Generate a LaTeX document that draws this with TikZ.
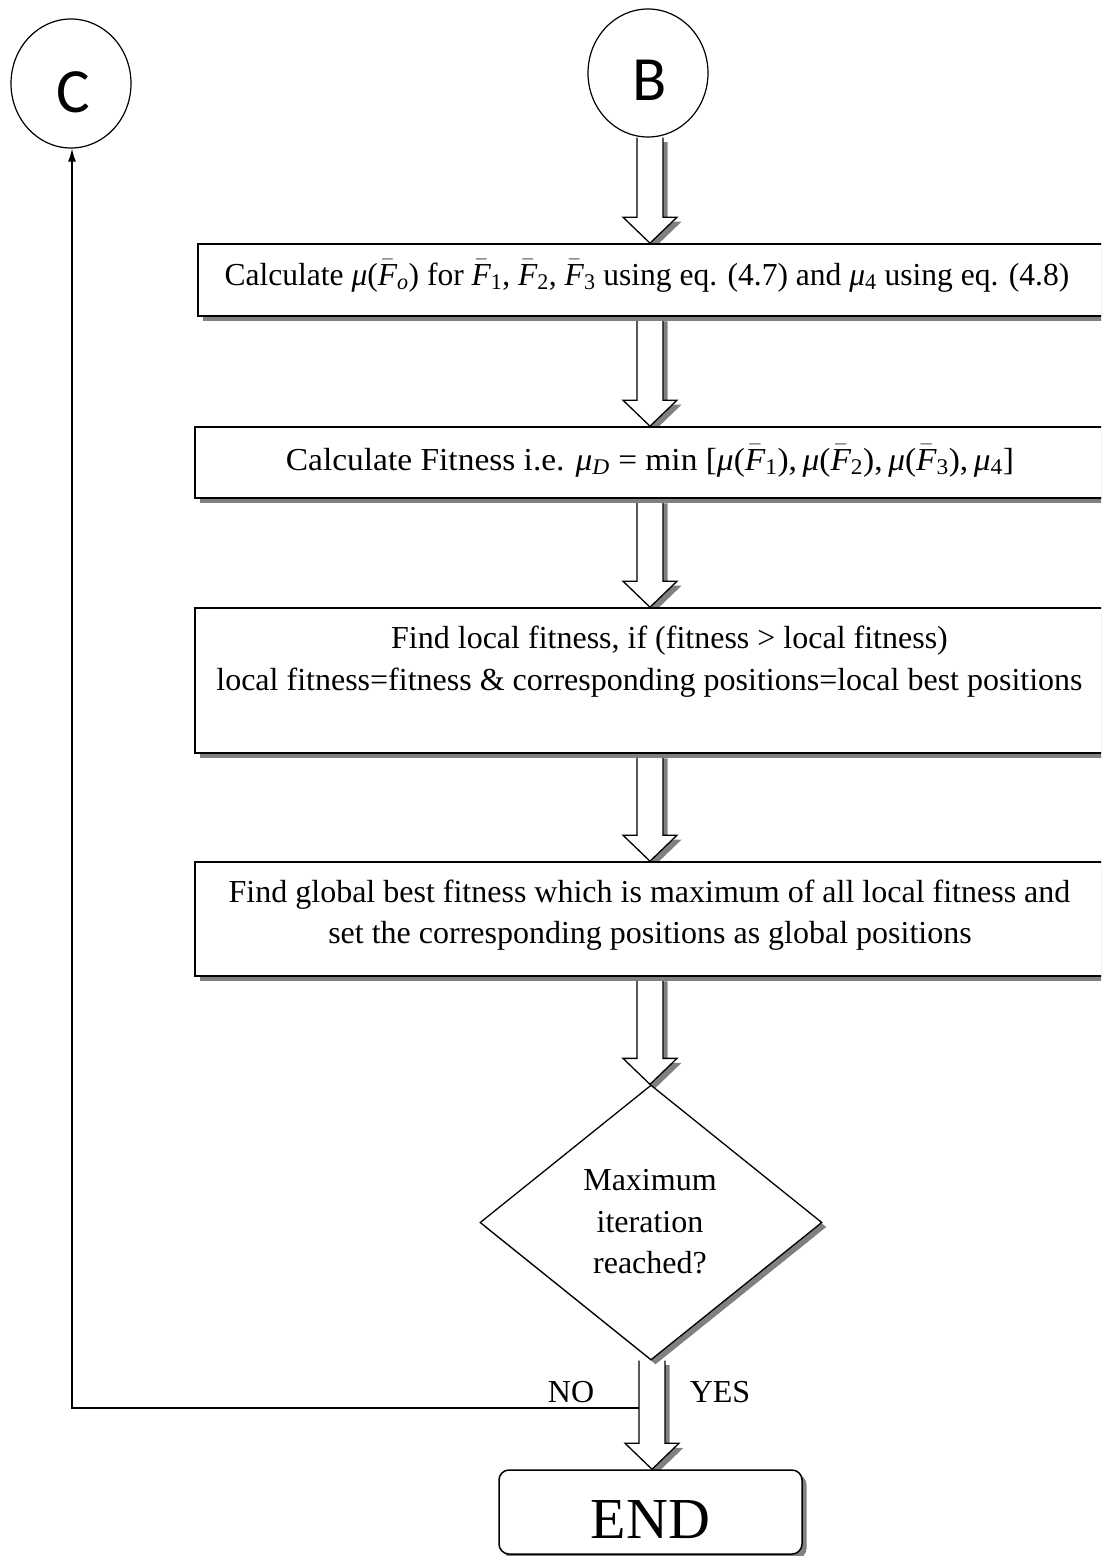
\RequirePackage{fix-cm}
\documentclass[tikz,border=0pt]{standalone}
\usepackage{fontspec}
\usepackage{graphicx}
\setmainfont{Liberation Serif}
\newfontfamily\calib{Carlito}
\usetikzlibrary{shapes.geometric,shadows,arrows.meta,calc}
\pgfdeclarelayer{bg}
\pgfsetlayers{bg,main}
\definecolor{shadowgray}{RGB}{128,128,128}
\newcommand\Fbar{\ensuremath{\bar{\mbox{\itshape F}}}}
\newcommand\mmu{\textit{μ}}
\tikzset{
  shad/.style={drop shadow={shadow xshift=4.5pt,shadow yshift=-4.5pt,fill=shadowgray,opacity=1}},
  procbox/.style={draw=black,line width=1.6pt,fill=white,shad,inner sep=0pt},
  txt/.style={font=\fontsize{32}{38}\selectfont,anchor=base,inner sep=0pt},
  conn/.style={draw=black,line width=1.2pt,ellipse,inner sep=0pt,minimum width=120pt},
  blkarr/.style={draw=black,fill=white,line width=1.3pt,line join=miter,shad},
  letter/.style={font=\calib\fontsize{63}{63}\selectfont,anchor=base,inner sep=0pt},
}
% #1 = x centre, #2 = source anchor, #3 = target anchor
\newcommand\blkarrow[3]{%
  \draw[blkarr] let \p1=(#2), \p2=(#3) in
    (#1pt-13pt,\y1) -- (#1pt-13pt,\y2+26pt) -- (#1pt-27pt,\y2+26pt) -- (#1pt,\y2)
    -- (#1pt+27pt,\y2+26pt) -- (#1pt+13pt,\y2+26pt) -- (#1pt+13pt,\y1);}
\begin{document}
\begin{tikzpicture}[x=1pt,y=-1pt]
\useasboundingbox (0,0) rectangle (1101,1556);
\clip (0,0) rectangle (1101,1556);

% connectors (ellipses)
\node[conn,minimum height=129pt] (C) at (71,83.5) {};
\node[letter] (Ct) at (73,112) {C};
\node[conn,minimum height=128pt] (B) at (648,73) {};
\node[letter] (Bt) at (650,100) {B};

% process boxes
\node[procbox,minimum width=912pt,minimum height=72pt] (b1) at (654,280) {};
\node[txt] (t1) at (647,285)
  {\scalebox{0.985}[1]{Calculate \mmu(\Fbar\textsubscript{\textit{o}}) for \Fbar\textsubscript{1}, \Fbar\textsubscript{2}, \Fbar\textsubscript{3} using eq. (4.7) and \mmu\textsubscript{4} using eq. (4.8)}};

\node[procbox,minimum width=915pt,minimum height=71pt] (b2) at (652.5,462.5) {};
\node[txt] (t2) at (650,470)
  {\scalebox{1.045}[1]{Calculate Fitness i.e. \mmu\textsubscript{\textit{D}} = min [\mmu(\Fbar\textsubscript{1}),\,\mmu(\Fbar\textsubscript{2}),\,\mmu(\Fbar\textsubscript{3}),\,\mmu\textsubscript{4}]}};

\node[procbox,minimum width=915pt,minimum height=145pt] (b3) at (652.5,680.5) {};
\node[txt] (t3a) at (669.5,648) {Find local fitness, if (fitness > local fitness)};
\node[txt] (t3b) at (649.5,690) {local fitness=fitness \& corresponding positions=local best positions};

\node[procbox,minimum width=915pt,minimum height=114pt] (b4) at (652.5,919) {};
\node[txt] (t4a) at (649.5,902) {Find global best fitness which is maximum of all local fitness and};
\node[txt] (t4b) at (650,943) {set the corresponding positions as global positions};

% decision
\node[draw=black,line width=1.3pt,fill=white,shad,diamond,inner sep=0pt,
      minimum width=342pt,minimum height=275pt] (D) at (651,1222.5) {};
\node[txt] (d1) at (650,1190) {Maximum};
\node[txt] (d2) at (650,1232) {iteration};
\node[txt] (d3) at (650,1273) {reached?};

% end
\node[draw=black,line width=1.5pt,fill=white,shad,rounded corners=10pt,inner sep=0pt,
      minimum width=303pt,minimum height=84pt] (E) at (650.5,1512) {};
\node[font=\fontsize{58}{58}\selectfont,anchor=base,inner sep=0pt] (Et) at (650.5,1538) {END};

% labels
\node[txt] (no) at (571,1402) {NO};
\node[txt] (yes) at (720,1402) {YES};

% block arrows (behind the shapes)
\begin{pgfonlayer}{bg}
  \blkarrow{650}{B.south}{b1.north}
  \blkarrow{650}{b1.south}{b2.north}
  \blkarrow{650}{b2.south}{b3.north}
  \blkarrow{650}{b3.south}{b4.north}
  \blkarrow{650}{b4.south}{D.north}
  \blkarrow{652}{D.south}{E.north}
\end{pgfonlayer}

% NO branch back to C
\coordinate (nstart) at (639,1408);
\coordinate (ncorner) at (72,1408);
\draw[line width=1.4pt,-{Latex[length=13pt,width=8pt]}] (nstart) -- (ncorner) -- (ncorner |- C.south);
\end{tikzpicture}
\end{document}
